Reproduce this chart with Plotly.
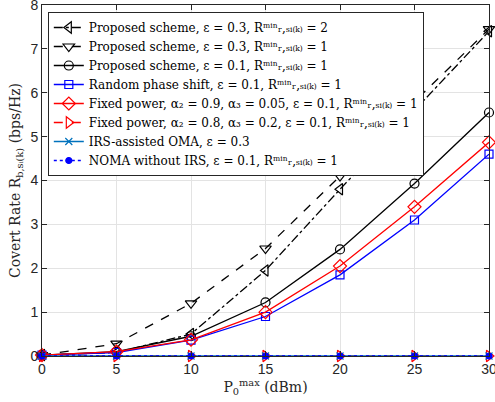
import plotly.graph_objects as go

x_power = [0, 5, 10, 15, 20, 25, 30]

prop_eps03_R2 = [0.02, 0.08, 0.50, 1.95, 3.80, 5.60, 7.40]
prop_eps03_R1 = [0.02, 0.28, 1.20, 2.45, 4.10, 5.80, 7.45]
prop_eps01_R1 = [0.02, 0.10, 0.45, 1.22, 2.43, 3.93, 5.55]
random_phase = [0.02, 0.08, 0.36, 0.90, 1.85, 3.10, 4.60]
fixed_09 = [0.02, 0.10, 0.37, 1.00, 2.05, 3.40, 4.87]
fixed_08 = [0, 0, 0, 0, 0, 0, 0]
irs_oma = [0, 0, 0, 0, 0, 0, 0]
noma_no_irs = [0, 0, 0, 0, 0, 0, 0]

R = "Rᵐⁱⁿᵣ,ₛᵢ₍ₖ₎"
names = [
    f"Proposed scheme, ε = 0.3, {R} = 2",
    f"Proposed scheme, ε = 0.3, {R} = 1",
    f"Proposed scheme, ε = 0.1, {R} = 1",
    f"Random phase shift, ε = 0.1, {R} = 1",
    f"Fixed power, α₂ = 0.9, α₃ = 0.05, ε = 0.1, {R} = 1",
    f"Fixed power, α₂ = 0.8, α₃ = 0.2, ε = 0.1, {R} = 1",
    "IRS-assisted OMA, ε = 0.3",
    f"NOMA without IRS, ε = 0.1, {R} = 1",
]
series = [prop_eps03_R2, prop_eps03_R1, prop_eps01_R1, random_phase,
          fixed_09, fixed_08, irs_oma, noma_no_irs]
colors = ["black", "black", "black", "#0000FF", "#FF0000", "#FF0000", "#0072BD", "#0000FF"]
dashes = ["dashdot", "dash", "solid", "solid", "solid", "dash", "solid", "dot"]
symbols = ["triangle-left-open", "triangle-down-open", "circle-open", "square-open",
           "diamond-open", "triangle-right-open", "x-thin-open", "circle"]
sizes = [10, 10, 9, 8, 10, 10, 7, 6]

fig = go.Figure()
for y, n, c, d, s, ms in zip(series, names, colors, dashes, symbols, sizes):
    fig.add_trace(go.Scatter(
        x=x_power, y=y, name=n, mode="lines+markers", cliponaxis=False,
        line=dict(color=c, width=1.3, dash=d),
        marker=dict(symbol=s, size=ms, color=c, line=dict(color=c, width=1.2)),
    ))

axis_common = dict(
    showgrid=True, gridcolor="#e3e3e3", gridwidth=1,
    showline=True, linecolor="#262626", linewidth=1, mirror="ticks",
    ticks="inside", ticklen=5, tickcolor="#262626",
    tickfont=dict(family="Liberation Sans, Arial, sans-serif", size=14, color="#262626"),
    zeroline=False, automargin=False, ticklabeloverflow="allow",
)

fig.update_layout(
    width=495, height=402,
    margin=dict(l=42, r=6, t=5, b=46),
    paper_bgcolor="white", plot_bgcolor="white",
    xaxis=dict(range=[0, 30], tickvals=[0, 5, 10, 15, 20, 25, 30],
               title=dict(text="P<sub>0</sub><sup>max</sup> (dBm)", standoff=6,
                          font=dict(family="DejaVu Serif, serif", size=14, color="#262626")),
               **axis_common),
    yaxis=dict(range=[0, 8], tickvals=list(range(0, 9)),
               title=dict(text="Covert Rate R<sub>b,sᵢ(k)</sub> (bps/Hz)", standoff=6,
                          font=dict(family="DejaVu Serif, serif", size=14, color="#262626")),
               **axis_common),
    legend=dict(x=0.013, y=0.98, xanchor="left", yanchor="top",
                bgcolor="white", bordercolor="#262626", borderwidth=1,
                font=dict(family="DejaVu Serif, serif", size=12, color="black"),
                tracegroupgap=0, itemwidth=30),
    showlegend=True,
)

fig.write_html("out.html", config={"displayModeBar": False},
               post_script="document.body.style.margin='0';document.body.style.overflow='hidden';")
